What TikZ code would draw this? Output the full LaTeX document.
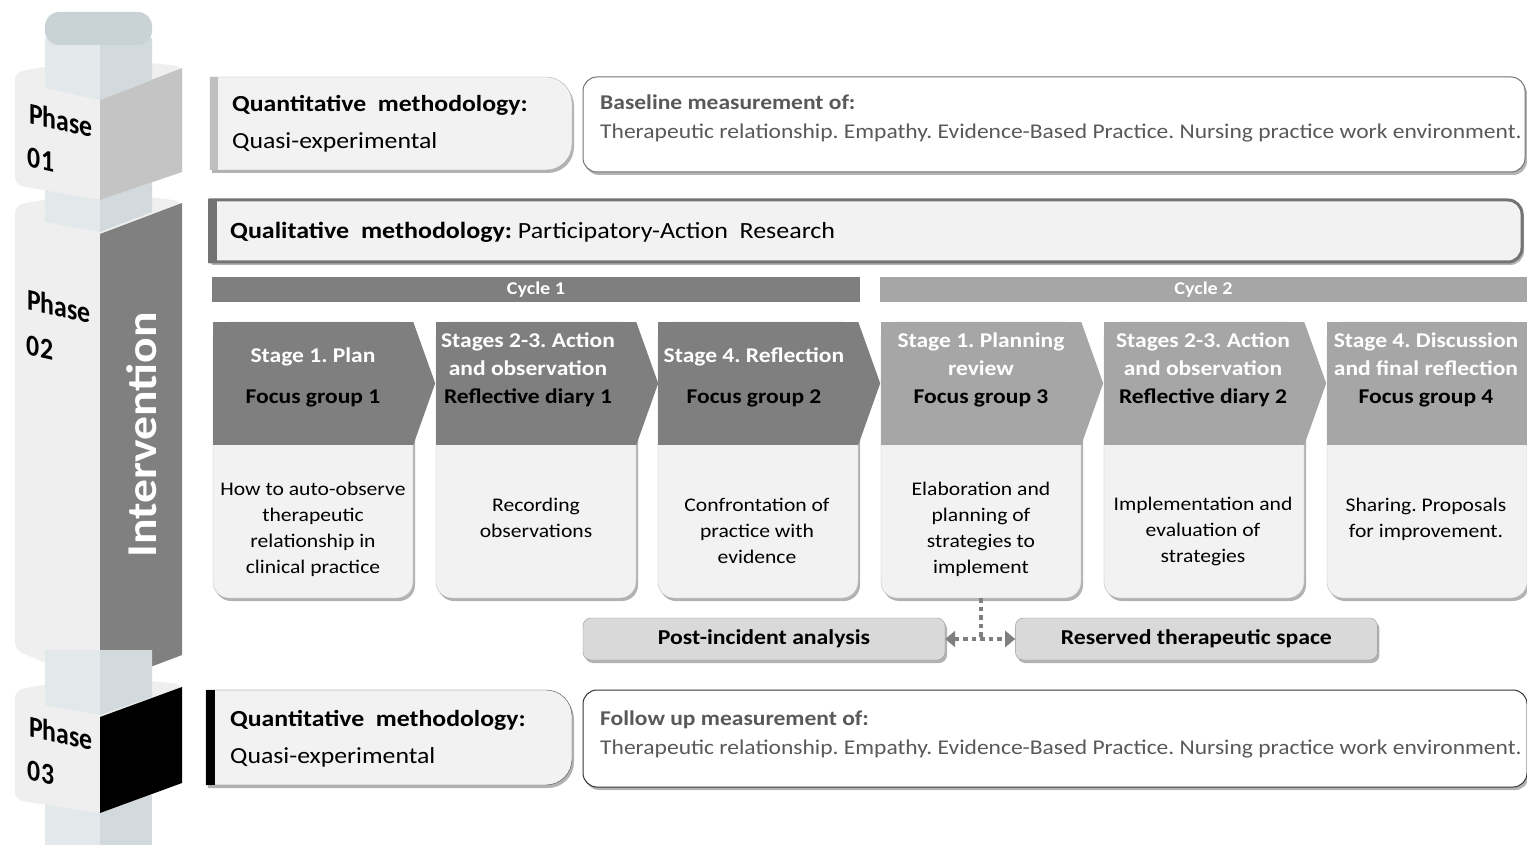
\documentclass[tikz,border=0pt]{standalone}
\usepackage{fontspec}
\setmainfont{Carlito}[FakeStretch=1.12]
\newfontfamily\phasefont{Carlito}
\usepackage{xcolor}
\usepackage{tikz}
\usetikzlibrary{positioning,shadows,arrows.meta}

\definecolor{cycA}{HTML}{7F7F7F}
\definecolor{cycB}{HTML}{A6A6A6}
\definecolor{boxfill}{HTML}{F2F2F2}
\definecolor{eventfill}{HTML}{D9D9D9}
\definecolor{txtgrey}{HTML}{595959}
\definecolor{capTop}{HTML}{C9D3D6}
\definecolor{capL}{HTML}{E3E9EB}
\definecolor{capR}{HTML}{D2DADD}
\definecolor{faceL}{HTML}{EFEFEF}
\definecolor{phaseA}{HTML}{C4C4C4}
\definecolor{phaseB}{HTML}{808080}

\newcommand{\wtxt}[1]{\textcolor{white}{#1}}

\begin{document}
\frenchspacing
\begin{tikzpicture}[
  x=1pt, y=-1pt,
  softshadow/.style={drop shadow={shadow xshift=2pt, shadow yshift=-3pt, fill=black, opacity=0.3}},
  phaselabel/.style={yslant=-0.23, xscale=0.86, font=\phasefont\bfseries\fontsize{30}{34}\selectfont, inner sep=0pt},
  quantbox/.style={fill=boxfill, draw=black!30, softshadow},
  quanttext/.style={align=left, anchor=west, font=\fontsize{23}{37}\selectfont, inner sep=0pt},
  measbox/.style={rectangle, rounded corners=14pt, fill=white, draw=black!55, line width=1pt, softshadow},
  meastext/.style={align=left, anchor=west, text=txtgrey, font=\fontsize{21}{29}\selectfont, inner sep=0pt},
  qualbox/.style={fill=boxfill, draw=black!55, line width=3pt, softshadow},
  cyclebar/.style={rectangle, minimum height=25pt, inner sep=0pt, text=white, font=\bfseries\fontsize{18}{20}\selectfont},
  stagecol/.style={rectangle, rounded corners=16pt, draw=black!25, fill=boxfill, minimum width=200pt, minimum height=276pt, inner sep=0pt, softshadow},
  stagehead/.style={rectangle, minimum width=200pt, minimum height=123pt, inner sep=0pt},
  headtext/.style={align=center, font=\bfseries\fontsize{21}{28}\selectfont, inner sep=0pt},
  coltext/.style={align=center, font=\fontsize{19.3}{26}\selectfont, inner sep=0pt},
  eventbox/.style={rectangle, rounded corners=8pt, fill=eventfill, draw=black!40, minimum width=362pt, minimum height=42pt, font=\bfseries\fontsize{21.2}{25}\selectfont, softshadow},
  linkline/.style={draw=cycA, line width=4.5pt, dash pattern=on 4.5pt off 4pt}
]
  \fill[white] (0,0) rectangle (1527,845);
  \useasboundingbox (0,0) rectangle (1527,845);

  % pillar, drawn from the bottom up
  \fill[capL] (45,795) rectangle (100,845);
  \fill[capR] (100,795) rectangle (152,845);
  \fill[faceL, rounded corners=8pt] (15,690) -- (95,676) -- (182,684) -- (182,783) -- (100,813) -- (15,800) -- cycle;
  \fill[black] (100,717) -- (182,687) -- (182,783) -- (100,813) -- cycle;
  \fill[faceL, rounded corners=8pt] (15,205) -- (95,191) -- (182,201) -- (182,655) -- (100,686) -- (15,650) -- cycle;
  \fill[phaseB] (100,234) -- (182,203) -- (182,655) -- (100,686) -- cycle;
  \fill[capL] (45,650) -- (100,650) -- (100,715) -- (45,705) -- cycle;
  \fill[capR] (100,650) -- (152,650) -- (152,697) -- (100,715) -- cycle;
  \fill[capL] (45,180) -- (100,180) -- (100,232) -- (45,222) -- cycle;
  \fill[capR] (100,180) -- (152,180) -- (152,212) -- (100,232) -- cycle;
  \fill[faceL, rounded corners=8pt] (15,72) -- (95,58) -- (182,66) -- (182,172) -- (100,200) -- (15,185) -- cycle;
  \fill[phaseA] (100,100) -- (182,68) -- (182,172) -- (100,200) -- cycle;
  \fill[capL] (45,38) -- (100,38) -- (100,100) -- (45,88) -- cycle;
  \fill[capR] (100,38) -- (152,38) -- (152,80) -- (100,100) -- cycle;
  \fill[capTop, rounded corners=14pt] (45,12) rectangle (152,45);

  \node[phaselabel] (ph1) at (61,120) {Phase};
  \node[phaselabel] (pn1) at (41,160) {01};
  \node[phaselabel] (ph2) at (59,306) {Phase};
  \node[phaselabel] (pn2) at (40,348) {02};
  \node[phaselabel] (ph3) at (61,733) {Phase};
  \node[phaselabel] (pn3) at (41,773) {03};
  \node[rotate=90, text=white, font=\bfseries\fontsize{42.5}{48}\selectfont] (iv) at (142,435) {Intervention};

  % phase 01
  \draw[quantbox] (391,77) [rounded corners=26pt] -- (572,77) -- (572,170) -- (391,170) [sharp corners] -- (210,170) -- (210,77) -- cycle;
  \fill[black!25] (210,77) rectangle (218,170);
  \node[quanttext] (q1) at (232,124) {\textbf{Quantitative\ \ methodology:}\\Quasi-experimental};
  \node[measbox, minimum width=942pt, minimum height=95pt] (m1) at (1054,124.5) {};
  \node[meastext] (mt1) at (600,118.5) {\textbf{Baseline measurement of:}\\Therapeutic relationship. Empathy. Evidence-Based Practice. Nursing practice work environment.};

  % phase 02
  \draw[qualbox] (860,200) [rounded corners=14pt] -- (1522,200) -- (1522,262) -- (860,262) [sharp corners] -- (210,262) -- (210,200) -- cycle;
  \fill[black!55] (208,199) rectangle (217,263);
  \node[quanttext, font=\fontsize{23.2}{30}\selectfont] (ql) at (230,232) {\textbf{Qualitative\ \ methodology:}\ Participatory-Action\ \ Research};

  \node[cyclebar, fill=cycA, minimum width=648pt] (cy1) at (536,289.5) {Cycle 1};
  \node[cyclebar, fill=cycB, minimum width=647pt] (cy2) at (1203.5,289.5) {Cycle 2};

  \node[stagecol] (c1) at (313,460) {};
  \node[stagecol] (c2) at (536,460) {};
  \node[stagecol] (c3) at (758,460) {};
  \node[stagecol] (c4) at (981,460) {};
  \node[stagecol] (c5) at (1204,460) {};
  \node[stagecol] (c6) at (1427,460) {};

  \node[stagehead, fill=cycA] (h1) at (313,383.5) {};
  \node[stagehead, fill=cycA] (h2) at (536,383.5) {};
  \node[stagehead, fill=cycA] (h3) at (758,383.5) {};
  \node[stagehead, fill=cycB] (h4) at (981,383.5) {};
  \node[stagehead, fill=cycB] (h5) at (1204,383.5) {};
  \node[stagehead, fill=cycB] (h6) at (1427,383.5) {};
  \fill[cycA] (h1.north east) -- ++(22,61.5) -- (h1.south east) -- cycle;
  \fill[cycA] (h2.north east) -- ++(22,61.5) -- (h2.south east) -- cycle;
  \fill[cycA] (h3.north east) -- ++(22,61.5) -- (h3.south east) -- cycle;
  \fill[cycB] (h4.north east) -- ++(22,61.5) -- (h4.south east) -- cycle;
  \fill[cycB] (h5.north east) -- ++(22,61.5) -- (h5.south east) -- cycle;

  \node[headtext] (l1) at (313,377) {\wtxt{Stage 1. Plan}\\[13pt]Focus group 1};
  \node[headtext] (l2) at (528,370) {\wtxt{Stages 2-3. Action}\\\wtxt{and observation}\\Reflective diary 1};
  \node[headtext] (l3) at (754,377) {\wtxt{Stage 4. Reflection}\\[13pt]Focus group 2};
  \node[headtext] (l4) at (981,370) {\wtxt{Stage 1. Planning}\\\wtxt{review}\\Focus group 3};
  \node[headtext] (l5) at (1203,370) {\wtxt{Stages 2-3. Action}\\\wtxt{and observation}\\Reflective diary 2};
  \node[headtext] (l6) at (1426,370) {\wtxt{Stage 4. Discussion}\\\wtxt{and final reflection}\\Focus group 4};

  \node[coltext] (t1) at (313,529) {How to auto-observe\\therapeutic\\relationship in\\clinical practice};
  \node[coltext] (t2) at (536,518) {Recording\\observations};
  \node[coltext] (t3) at (757,531) {Confrontation of\\practice with\\evidence};
  \node[coltext] (t4) at (981,529) {Elaboration and\\planning of\\strategies to\\implement};
  \node[coltext] (t5) at (1203,531) {Implementation and\\evaluation of\\strategies};
  \node[coltext] (t6) at (1426,519) {Sharing. Proposals\\for improvement.};

  \node[eventbox] (ev1) at (764,639) {Post-incident analysis};
  \node[eventbox, right=70pt of ev1] (ev2) {Reserved therapeutic space};
  \coordinate (jn) at (c4.south |- ev1.east);
  \draw[linkline] (c4.south) -- (jn);
  \draw[linkline, {Triangle[width=16pt,length=10pt]}-{Triangle[width=16pt,length=10pt]}] (ev1) -- (ev2);

  % phase 03
  \draw[quantbox, draw=black!70] (391,690) [rounded corners=26pt] -- (572,690) -- (572,785) -- (391,785) [sharp corners] -- (206,785) -- (206,690) -- cycle;
  \fill[black] (206,690) rectangle (215,785);
  \node[quanttext] (q3) at (230,739) {\textbf{Quantitative\ \ methodology:}\\Quasi-experimental};
  \node[measbox, draw=black!80, minimum width=944pt, minimum height=97pt] (m3) at (1055,738.5) {};
  \node[meastext] (mt3) at (600,734) {\textbf{Follow up measurement of:}\\Therapeutic relationship. Empathy. Evidence-Based Practice. Nursing practice work environment.};
\end{tikzpicture}
\end{document}
